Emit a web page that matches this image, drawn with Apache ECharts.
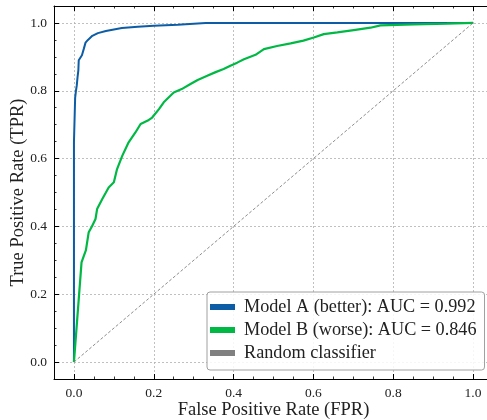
<!DOCTYPE html>
<html>
<head>
<meta charset="utf-8">
<script src="https://cdn.jsdelivr.net/npm/echarts@6/dist/echarts.min.js"></script>
<style>html,body{margin:0;padding:0;background:#fff}#c{width:487px;height:420px}</style>
</head>
<body>
<div id="c"></div>
<script>
const seriesNames = ['Model A (better): AUC = 0.992', 'Model B (worse): AUC = 0.846', 'Random classifier'];
const fprA = [0, 0, 0.003, 0.003, 0.005, 0.007, 0.009, 0.011, 0.012, 0.016, 0.020, 0.025, 0.029, 0.035, 0.046, 0.060, 0.080, 0.100, 0.120, 0.160, 0.200, 0.260, 0.330, 1.0];
const tprA = [0, 0.648, 0.648, 0.78, 0.80, 0.815, 0.84, 0.86, 0.89, 0.895, 0.905, 0.925, 0.942, 0.950, 0.962, 0.970, 0.976, 0.981, 0.985, 0.989, 0.992, 0.995, 1.0, 1.0];
const fprB = [0, 0.019, 0.025, 0.030, 0.033, 0.037, 0.045, 0.054, 0.058, 0.071, 0.080, 0.087, 0.100, 0.108, 0.121, 0.137, 0.154, 0.167, 0.185, 0.196, 0.213, 0.225, 0.250, 0.270, 0.292, 0.310, 0.334, 0.355, 0.375, 0.392, 0.409, 0.426, 0.455, 0.476, 0.509, 0.543, 0.575, 0.601, 0.626, 0.660, 0.701, 0.743, 0.768, 0.852, 0.935, 1.0];
const tprB = [0, 0.294, 0.314, 0.330, 0.353, 0.383, 0.400, 0.422, 0.451, 0.481, 0.500, 0.515, 0.530, 0.569, 0.608, 0.648, 0.677, 0.702, 0.712, 0.721, 0.746, 0.766, 0.795, 0.805, 0.820, 0.832, 0.844, 0.855, 0.864, 0.874, 0.883, 0.893, 0.906, 0.923, 0.932, 0.940, 0.948, 0.957, 0.967, 0.972, 0.979, 0.986, 0.993, 0.996, 0.998, 1.0];
const fprRand = [0, 1];
const tprRand = [0, 1];
const axisMin = -0.05, axisMax = 1.05, majorStep = 0.2;
const xTitle = 'False Positive Rate (FPR)';
const yTitle = 'True Positive Rate (TPR)';

const zip = (a, b) => a.map((v, i) => [v, b[i]]);
const FONT = 'Liberation Serif';
const TXT = '#222';

function mkAxis(pos, primary, name) {
  return {
    type: 'value', position: pos, min: axisMin, max: axisMax,
    minInterval: majorStep, maxInterval: majorStep, splitNumber: 5,
    name: primary ? name : '', nameLocation: 'middle', nameMoveOverlap: false,
    nameGap: (pos === 'bottom') ? 22 : 26,
    nameTextStyle: {fontFamily: FONT, fontSize: 18.5, color: TXT},
    axisLine: {show: true, onZero: false, lineStyle: {color: '#000', width: 1}},
    axisTick: {show: true, inside: true, length: 5, lineStyle: {color: '#000', width: 1}},
    minorTick: {show: true, splitNumber: 4, length: 2.5, lineStyle: {color: '#000', width: 0.8}},
    axisLabel: {show: primary, showMinLabel: false, showMaxLabel: false, margin: 7,
      fontFamily: FONT, fontSize: 13.5, color: TXT, formatter: v => v.toFixed(1)},
    splitLine: {show: primary, lineStyle: {color: '#b0b0b0', type: [2, 2], width: 0.8}},
    minorSplitLine: {show: false}
  };
}

const chart = echarts.init(document.getElementById('c'));
chart.setOption({
  animation: false,
  backgroundColor: '#fff',
  grid: {left: 54, top: 6, width: 439, height: 373, containLabel: false, outerBoundsMode: 'none'},
  xAxis: [mkAxis('bottom', true, xTitle), mkAxis('top', false, '')],
  yAxis: [mkAxis('left', true, yTitle), mkAxis('right', false, '')],
  legend: {
    orient: 'vertical', left: 207, top: 292,
    backgroundColor: 'rgba(255,255,255,0.85)', borderColor: '#a0a0a0', borderWidth: 1, borderRadius: 3,
    padding: [6, 8, 8, 3], itemGap: 5, itemWidth: 25, itemHeight: 6,
    textStyle: {fontFamily: FONT, fontSize: 18.2, color: TXT, padding: [0, 0, 0, 4]},
    data: seriesNames.map(n => ({name: n, icon: 'rect'}))
  },
  series: [
    {name: seriesNames[0], type: 'line', data: zip(fprA, tprA), showSymbol: false, symbol: 'none',
      lineStyle: {color: '#0C5DA5', width: 2}, itemStyle: {color: '#0C5DA5'}, z: 2},
    {name: seriesNames[1], type: 'line', data: zip(fprB, tprB), showSymbol: false, symbol: 'none',
      lineStyle: {color: '#00B945', width: 2.2}, itemStyle: {color: '#00B945'}, z: 3},
    {name: seriesNames[2], type: 'line', data: zip(fprRand, tprRand), showSymbol: false, symbol: 'none',
      lineStyle: {color: '#808080', width: 0.9, type: [3, 2]}, itemStyle: {color: '#808080'}, z: 4}
  ]
});
</script>
</body>
</html>
